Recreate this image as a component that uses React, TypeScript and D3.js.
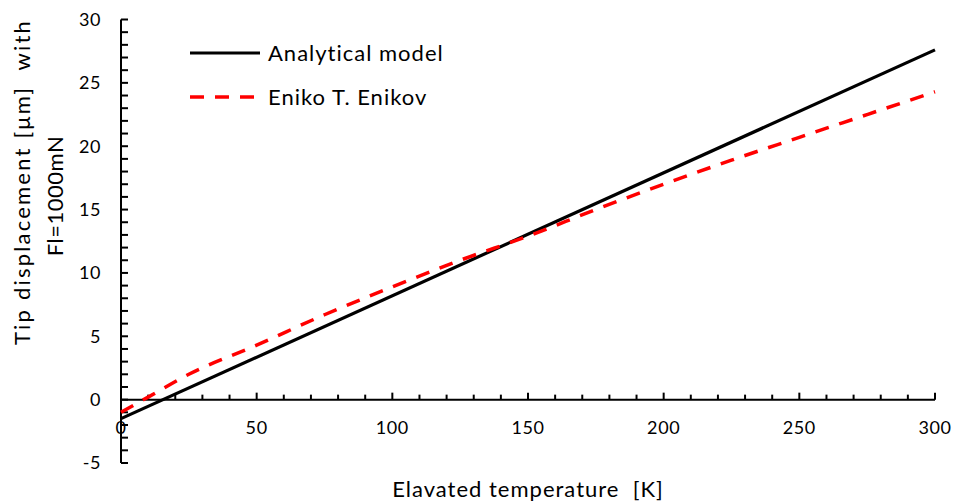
import React from "react";
import * as d3 from "d3";

const temps = [0, 300];
const analytical = [-1.5, 27.6];
const enikovT = [0, 10, 25, 50, 75, 100, 125, 150, 175, 200, 225, 250, 275, 300];
const enikovV = [-1.0, 0.2, 2.0, 4.3, 6.7, 8.9, 11.0, 12.9, 15.0, 17.0, 18.9, 20.7, 22.5, 24.3];
const xTicks = [0, 50, 100, 150, 200, 250, 300];
const yTicks = [-5, 0, 5, 10, 15, 20, 25, 30];
const seriesNames = ["Analytical model", "Eniko T. Enikov"];

const W = 958, H = 503;
const FONT = "Lato, 'Open Sans', sans-serif";

export default function App() {
  const x = d3.scaleLinear().domain([0, 300]).range([121, 935]);
  const y = d3.scaleLinear().domain([-5, 30]).range([463, 19.5]);
  const line = d3.line<[number, number]>().x(d => x(d[0])).y(d => y(d[1]));
  const curve = d3.line<[number, number]>().x(d => x(d[0])).y(d => y(d[1])).curve(d3.curveMonotoneX);
  const aPts: [number, number][] = temps.map((t, i) => [t, analytical[i]]);
  const ePts: [number, number][] = enikovT.map((t, i) => [t, enikovV[i]]);
  const xMinor = d3.range(0, 301, 10);
  const yMinor = d3.range(-5, 30.01, 1);
  const y0 = y(0);
  return (
    <svg width={W} height={H} style={{ position: "absolute", left: 0, top: 0, background: "#fff" }} fontFamily={FONT}>
      {/* y axis */}
      <line x1={x(0)} x2={x(0)} y1={y(-5)} y2={y(30)} stroke="#000" strokeWidth={2} />
      {yMinor.map(v => (
        <line key={"ym" + v} x1={x(0)} x2={x(0) + 7} y1={y(v)} y2={y(v)} stroke="#000" strokeWidth={2} />
      ))}
      {yTicks.map(v => (
        <text key={"yt" + v} x={101} y={y(v)} dy="0.35em" textAnchor="end" fontSize={18} letterSpacing={0.6}>{v}</text>
      ))}
      {/* x axis at y=0 */}
      <line x1={x(0)} x2={x(300)} y1={y0} y2={y0} stroke="#000" strokeWidth={2} />
      {xMinor.map(v => (
        <line key={"xm" + v} x1={x(v)} x2={x(v)} y1={y0} y2={y0 - (v % 50 === 0 ? 7 : 5)} stroke="#000" strokeWidth={2} />
      ))}
      {xTicks.map(v => (
        <text key={"xt" + v} x={x(v)} y={428} dy="0.35em" textAnchor="middle" fontSize={18} letterSpacing={0.6}>{v}</text>
      ))}
      {/* series */}
      <path d={line(aPts) || ""} fill="none" stroke="#000" strokeWidth={3.2} />
      <path d={curve(ePts) || ""} fill="none" stroke="#ff0000" strokeWidth={3.5} strokeDasharray="14,11" />
      {/* legend */}
      <line x1={190} x2={260} y1={53} y2={53} stroke="#000" strokeWidth={3.2} />
      <text x={268} y={53} dy="0.35em" fontSize={22} letterSpacing={1}>{seriesNames[0]}</text>
      <line x1={190} x2={260} y1={97} y2={97} stroke="#ff0000" strokeWidth={3.5} strokeDasharray="14,11" />
      <text x={268} y={97} dy="0.35em" fontSize={22} letterSpacing={1}>{seriesNames[1]}</text>
      {/* axis titles */}
      <text x={528} y={489} dy="0.35em" textAnchor="middle" fontSize={22} letterSpacing={1} style={{ whiteSpace: "pre" }}>{"Elavated temperature  [K]"}</text>
      <text transform="translate(30,182) rotate(-90)" textAnchor="middle" fontSize={22} letterSpacing={2.2} style={{ whiteSpace: "pre" }}>{"Tip displacement [μm]  with"}</text>
      <text transform="translate(63,196) rotate(-90)" textAnchor="middle" fontSize={22} letterSpacing={0.5}>{"Fl=1000mN"}</text>
    </svg>
  );
}
